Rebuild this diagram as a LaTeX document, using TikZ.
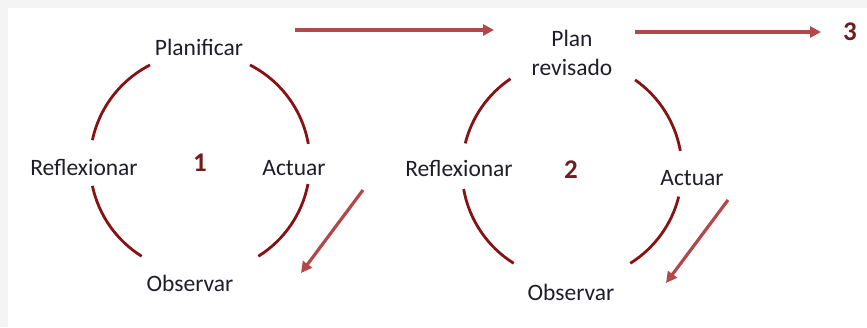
\documentclass[tikz,border=0pt]{standalone}
\usepackage{fontspec}
\setmainfont{Carlito}
\usetikzlibrary{arrows.meta}
\definecolor{arcred}{RGB}{135,18,20}
\definecolor{arrred}{RGB}{178,72,74}
\definecolor{numred}{RGB}{110,30,32}
\definecolor{txt}{RGB}{30,30,40}
\tikzset{
  lbl/.style={inner sep=0pt, text=txt, font=\fontsize{23.5}{27}\selectfont},
  num/.style={inner sep=0pt, text=numred, font=\fontsize{27}{30}\selectfont\bfseries},
  cyc/.style={draw=arcred, line width=2.8pt},
  flow/.style={draw=arrred, line width=3.2pt, -{Triangle[length=11pt,width=11pt]}}
}
\begin{document}
\begin{tikzpicture}[x=1pt,y=-1pt]
\useasboundingbox (0,0) rectangle (867,327);
\fill[gray!9] (0,0) rectangle (867,327);
\fill[white] (8,8) rectangle (867,327);
% cycle 1
\coordinate (c1) at (200,163);
\draw[cyc] ([shift={(-168:110)}]c1) arc[start angle=-168, end angle=-117, radius=110];
\draw[cyc] ([shift={(-63:110)}]c1) arc[start angle=-63, end angle=-10, radius=110];
\draw[cyc] ([shift={(11:110)}]c1) arc[start angle=11, end angle=58, radius=110];
\draw[cyc] ([shift={(122:110)}]c1) arc[start angle=122, end angle=168, radius=110];
\node[lbl] (plan1) at (199,47) {Planificar};
\node[lbl] (refl1) at (84,167) {Reflexionar};
\node[num] (n1) at (200,163) {1};
\node[lbl] (act1) at (294,168) {Actuar};
\node[lbl] (obs1) at (190,283) {Observar};
% cycle 2
\coordinate (c2) at (572,170);
\draw[cyc] ([shift={(-166:110)}]c2) arc[start angle=-166, end angle=-124, radius=110];
\draw[cyc] ([shift={(-55:110)}]c2) arc[start angle=-55, end angle=-10, radius=110];
\draw[cyc] ([shift={(14:110)}]c2) arc[start angle=14, end angle=58, radius=110];
\draw[cyc] ([shift={(122:110)}]c2) arc[start angle=122, end angle=170, radius=110];
\node[lbl] (plan2) at (572,38) {Plan};
\node[lbl] (rev2) at (572,67) {revisado};
\node[lbl] (refl2) at (459,168) {Reflexionar};
\node[num] (n2) at (571,170) {2};
\node[lbl] (act2) at (692,178) {Actuar};
\node[lbl] (obs2) at (571,292) {Observar};
\node[num] (n3) at (850,32) {3};
% arrows
\coordinate (a1s) at (295,30);
\coordinate (a1e) at (494,30);
\coordinate (a2s) at (635,32);
\coordinate (a2e) at (821,32);
\coordinate (d1s) at (363,190);
\coordinate (d1e) at (301,273);
\coordinate (d2s) at (728,200);
\coordinate (d2e) at (666,283);
\draw[flow] (a1s) -- (a1e);
\draw[flow] (a2s) -- (a2e);
\draw[flow] (d1s) -- (d1e);
\draw[flow] (d2s) -- (d2e);
\end{tikzpicture}
\end{document}
